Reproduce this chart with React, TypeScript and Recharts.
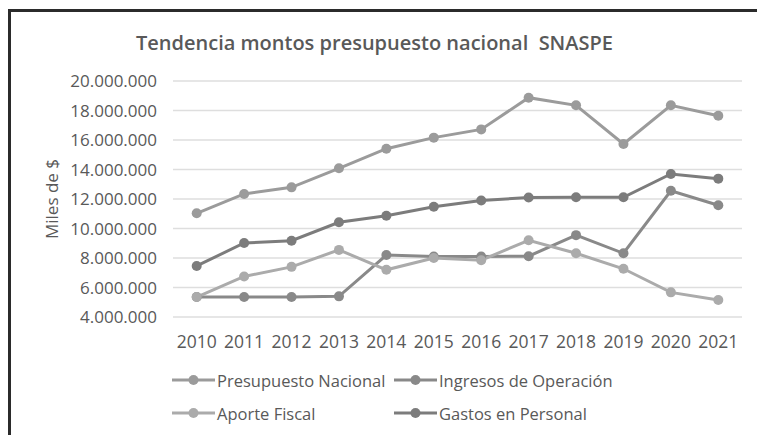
import { CartesianGrid, Line, LineChart, XAxis, YAxis } from "recharts";

const years = ["2010", "2011", "2012", "2013", "2014", "2015", "2016", "2017", "2018", "2019", "2020", "2021"];

const presupuestoNacional = [
  11030000, 12340000, 12790000, 14080000, 15410000, 16160000, 16720000, 18870000, 18350000, 15730000,
  18350000, 17650000,
];
const ingresosOperacion = [
  5350000, 5350000, 5350000, 5400000, 8200000, 8100000, 8100000, 8120000, 9550000, 8320000, 12560000,
  11580000,
];
const aporteFiscal = [
  5350000, 6750000, 7400000, 8550000, 7200000, 8000000, 7850000, 9200000, 8320000, 7270000, 5670000,
  5150000,
];
const gastosPersonal = [
  7460000, 9020000, 9170000, 10420000, 10870000, 11470000, 11900000, 12100000, 12120000, 12120000,
  13700000, 13380000,
];

const yTicks = [4000000, 6000000, 8000000, 10000000, 12000000, 14000000, 16000000, 18000000, 20000000];

const series = [
  { key: "presupuesto", name: "Presupuesto Nacional", color: "#9b9b9b", values: presupuestoNacional },
  { key: "ingresos", name: "Ingresos de Operación", color: "#898989", values: ingresosOperacion },
  { key: "aporte", name: "Aporte Fiscal", color: "#ababab", values: aporteFiscal },
  { key: "gastos", name: "Gastos en Personal", color: "#7c7c7c", values: gastosPersonal },
];

const data = years.map((year, i) => {
  const row: Record<string, string | number> = { year };
  series.forEach((s) => {
    row[s.key] = s.values[i];
  });
  return row;
});

const textColor = "#595959";
const font = "'Open Sans', sans-serif";

const miles = (v: number) => String(Math.round(v)).replace(/\B(?=(\d{3})+(?!\d))/g, ".");

function LegendItem({ name, color }: { name: string; color: string }) {
  return (
    <div style={{ display: "flex", alignItems: "center", height: 20 }}>
      <svg width={45} height={14} style={{ display: "block" }}>
        <line x1={1} y1={7} x2={44} y2={7} stroke={color} strokeWidth={3} />
        <circle cx={22.5} cy={7} r={5} fill={color} />
      </svg>
      <span style={{ marginLeft: 1, whiteSpace: "nowrap" }}>{name}</span>
    </div>
  );
}

export default function App() {
  return (
    <div
      style={{
        position: "absolute",
        left: 0,
        top: 0,
        width: 757,
        height: 435,
        overflow: "hidden",
        background: "#fff",
        fontFamily: font,
        color: textColor,
      }}
    >
      <div
        style={{
          position: "absolute",
          left: 8,
          top: 9,
          width: 800,
          height: 500,
          borderLeft: "3px solid #2b2b2b",
          borderTop: "3px solid #2b2b2b",
          boxSizing: "border-box",
        }}
      />
      <div
        style={{
          position: "absolute",
          left: 136,
          top: 33,
          fontSize: 20,
          fontWeight: 600,
          lineHeight: 1,
          whiteSpace: "pre",
        }}
      >
        {"Tendencia montos presupuesto nacional  SNASPE"}
      </div>
      <LineChart
        width={757}
        height={435}
        data={data}
        margin={{ top: 81, right: 15, bottom: 88, left: 0 }}
        style={{ position: "absolute", left: 0, top: 0 }}
      >
        <CartesianGrid vertical={false} stroke="#dedede" strokeWidth={1.5} />
        <XAxis
          dataKey="year"
          height={30}
          axisLine={false}
          tickLine={false}
          padding={{ left: 23.7, right: 23.7 }}
          tickMargin={13}
          tick={{ fill: textColor, fontSize: 17.5, fontFamily: font }}
          interval={0}
        />
        <YAxis
          width={173}
          domain={[4000000, 20000000]}
          ticks={yTicks}
          axisLine={false}
          tickLine={false}
          tickMargin={10}
          tickFormatter={miles}
          tick={{ fill: textColor, fontSize: 17, fontFamily: font }}
          label={{
            value: "Miles de $",
            angle: -90,
            position: "center",
            dx: -34.5,
            fill: textColor,
            fontSize: 17,
            fontFamily: font,
          }}
        />
        {series.map((s) => (
          <Line
            key={s.key}
            dataKey={s.key}
            name={s.name}
            type="linear"
            stroke={s.color}
            strokeWidth={3}
            dot={{ r: 5, fill: s.color, stroke: s.color, strokeWidth: 0 }}
            activeDot={false}
            isAnimationActive={false}
          />
        ))}
      </LineChart>
      <div
        style={{
          position: "absolute",
          left: 171,
          top: 370,
          display: "grid",
          gridTemplateColumns: "222px auto",
          rowGap: 13,
          fontSize: 16.5,
        }}
      >
        {series.map((s) => (
          <LegendItem key={s.key} name={s.name} color={s.color} />
        ))}
      </div>
    </div>
  );
}
